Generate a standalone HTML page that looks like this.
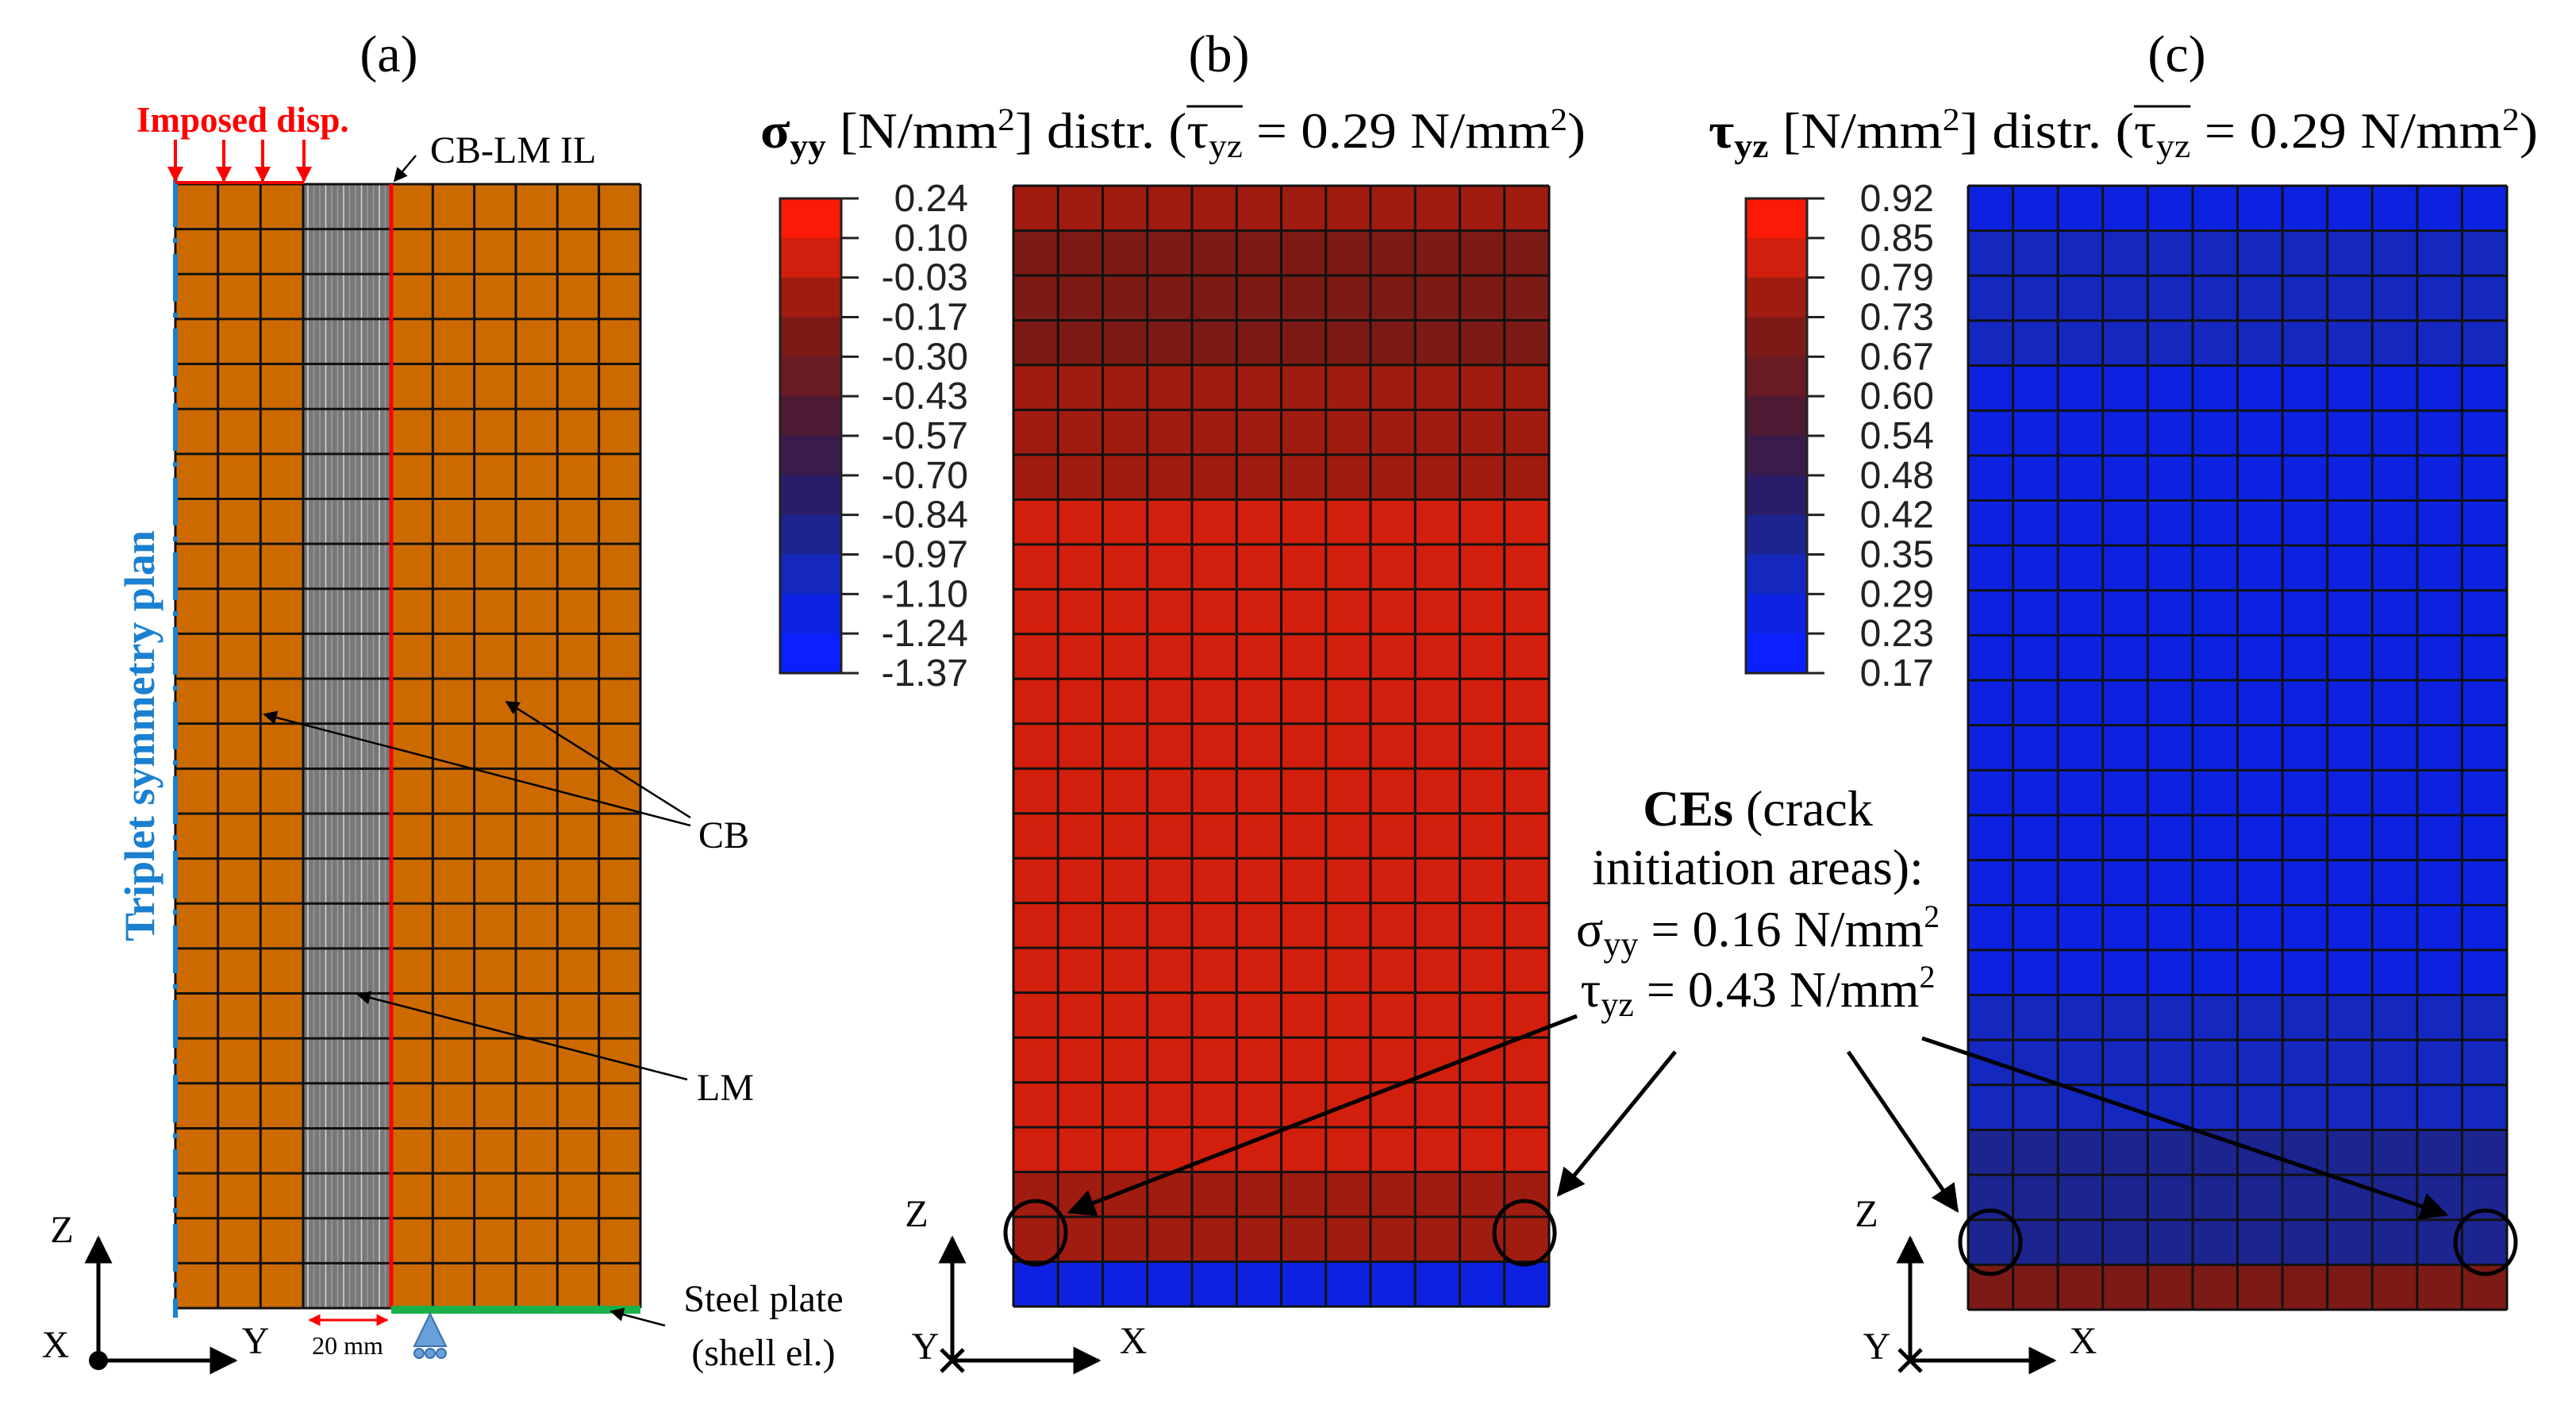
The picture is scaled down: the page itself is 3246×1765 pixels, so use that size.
<!DOCTYPE html>
<html><head><meta charset="utf-8"><style>
html,body{margin:0;padding:0;background:#fff;}
svg{display:block;}
.serif{font-family:"Liberation Serif",serif;}
.sans{font-family:"Liberation Sans",sans-serif;}
</style></head><body>
<svg id="fig" width="3246" height="1765" viewBox="0 0 3246 1765" xmlns="http://www.w3.org/2000/svg">
<defs>
<marker id="ah" viewBox="0 0 10 10" refX="9" refY="5" markerWidth="7" markerHeight="7" orient="auto"><path d="M0,0 L10,5 L0,10 z" fill="#000"/></marker>
<marker id="ahr" viewBox="0 0 10 10" refX="9" refY="5" markerWidth="5" markerHeight="6" orient="auto"><path d="M0,0 L10,5 L0,10 z" fill="#f00"/></marker>
<marker id="ahrs" viewBox="0 0 10 10" refX="1" refY="5" markerWidth="5" markerHeight="6" orient="auto"><path d="M10,0 L0,5 L10,10 z" fill="#f00"/></marker>
</defs>

<text class="serif" x="490" y="90" font-size="66" text-anchor="middle">(a)</text>
<text class="serif" x="1536" y="90" font-size="66" text-anchor="middle">(b)</text>
<text class="serif" x="2743" y="90" font-size="66" text-anchor="middle">(c)</text>

<!-- Panel a -->
<g id="meshA"></g>
<line x1="493" y1="232" x2="493" y2="1648" stroke="#f00" stroke-width="5"/>
<line x1="221" y1="226" x2="221" y2="1660" stroke="#1b80d0" stroke-width="6" stroke-dasharray="60,14,6,14"/>
<text class="serif" x="176" y="927" font-size="54" font-weight="bold" fill="#1b80d0" text-anchor="middle" transform="rotate(-90 176 927)" dy="18">Triplet symmetry plan</text>
<text class="serif" x="172" y="166" font-size="45" font-weight="bold" fill="#f00">Imposed disp.</text>
<g stroke="#f00" stroke-width="4">
<line x1="221" y1="230" x2="383" y2="230"/>
<line x1="221" y1="176" x2="221" y2="228" marker-end="url(#ahr)"/>
<line x1="282" y1="176" x2="282" y2="228" marker-end="url(#ahr)"/>
<line x1="331" y1="176" x2="331" y2="228" marker-end="url(#ahr)"/>
<line x1="383" y1="176" x2="383" y2="228" marker-end="url(#ahr)"/>
</g>
<text class="serif" x="542" y="205" font-size="48">CB-LM IL</text>
<line x1="524" y1="196" x2="497" y2="228" stroke="#000" stroke-width="2.5" marker-end="url(#ah)"/>
<text class="serif" x="880" y="1068" font-size="48">CB</text>
<line x1="870" y1="1040" x2="333" y2="900" stroke="#000" stroke-width="2.5" marker-end="url(#ah)"/>
<line x1="870" y1="1030" x2="638" y2="884" stroke="#000" stroke-width="2.5" marker-end="url(#ah)"/>
<text class="serif" x="878" y="1386" font-size="48">LM</text>
<line x1="866" y1="1360" x2="451" y2="1253" stroke="#000" stroke-width="2.5" marker-end="url(#ah)"/>
<line x1="493" y1="1650" x2="807" y2="1650" stroke="#1ab04a" stroke-width="10"/>
<text class="serif" x="962" y="1652" font-size="48" text-anchor="middle">Steel plate</text>
<text class="serif" x="962" y="1720" font-size="48" text-anchor="middle">(shell el.)</text>
<line x1="838" y1="1670" x2="770" y2="1652" stroke="#000" stroke-width="2.5" marker-end="url(#ah)"/>
<line x1="390" y1="1663" x2="488" y2="1663" stroke="#f00" stroke-width="3" marker-start="url(#ahrs)" marker-end="url(#ahr)"/>
<text class="serif" x="438" y="1706" font-size="32" text-anchor="middle">20 mm</text>
<g fill="#6aa0d8" stroke="#3a70b0" stroke-width="2">
<path d="M542,1655 L522,1696 L562,1696 Z"/>
<circle cx="528" cy="1705" r="6"/><circle cx="542" cy="1705" r="6"/><circle cx="556" cy="1705" r="6"/>
</g>
<g stroke="#000" stroke-width="5">
<line x1="124" y1="1712" x2="124" y2="1560" marker-end="url(#ah)"/>
<line x1="124" y1="1714" x2="296" y2="1714" marker-end="url(#ah)"/>
<circle cx="124" cy="1714" r="12" fill="#000" stroke="none"/>
</g>
<text class="serif" x="78" y="1565" font-size="48" text-anchor="middle">Z</text>
<text class="serif" x="70" y="1710" font-size="48" text-anchor="middle">X</text>
<text class="serif" x="322" y="1705" font-size="48" text-anchor="middle">Y</text>

<!-- Panel b -->
<text id="titleB" class="serif" x="958" y="186" font-size="64" textLength="1040" lengthAdjust="spacingAndGlyphs"><tspan font-weight="bold">σ<tspan font-size="42" dy="12">yy</tspan></tspan><tspan dy="-12"> [N/mm</tspan><tspan font-size="40" dy="-22">2</tspan><tspan dy="22">] distr. (τ</tspan><tspan font-size="42" dy="12">yz</tspan><tspan dy="-12"> = 0.29 N/mm</tspan><tspan font-size="40" dy="-22">2</tspan><tspan dy="22">)</tspan></text>
<line id="obB" x1="1474" y1="136" x2="1542" y2="136" stroke="#000" stroke-width="3"/>
<g id="cbarB"></g>
<g id="meshB"></g>
<ellipse cx="1305" cy="1553" rx="38" ry="40" fill="none" stroke="#000" stroke-width="5"/>
<ellipse cx="1921" cy="1553" rx="38" ry="40" fill="none" stroke="#000" stroke-width="5"/>
<g stroke="#000" stroke-width="5">
<line x1="1200" y1="1714" x2="1200" y2="1560" marker-end="url(#ah)"/>
<line x1="1200" y1="1714" x2="1384" y2="1714" marker-end="url(#ah)"/>
<line x1="1186" y1="1700" x2="1214" y2="1728"/><line x1="1214" y1="1700" x2="1186" y2="1728"/>
</g>
<text class="serif" x="1155" y="1545" font-size="48" text-anchor="middle">Z</text>
<text class="serif" x="1166" y="1712" font-size="48" text-anchor="middle">Y</text>
<text class="serif" x="1428" y="1705" font-size="48" text-anchor="middle">X</text>

<!-- Panel c -->
<text id="titleC" class="serif" x="2153" y="186" font-size="64" textLength="1045" lengthAdjust="spacingAndGlyphs"><tspan font-weight="bold">τ<tspan font-size="42" dy="12">yz</tspan></tspan><tspan dy="-12"> [N/mm</tspan><tspan font-size="40" dy="-22">2</tspan><tspan dy="22">] distr. (τ</tspan><tspan font-size="42" dy="12">yz</tspan><tspan dy="-12"> = 0.29 N/mm</tspan><tspan font-size="40" dy="-22">2</tspan><tspan dy="22">)</tspan></text>
<line id="obC" x1="2672" y1="136" x2="2740" y2="136" stroke="#000" stroke-width="3"/>
<g id="cbarC"></g>
<g id="meshC"></g>
<ellipse cx="2508" cy="1565" rx="38" ry="40" fill="none" stroke="#000" stroke-width="5"/>
<ellipse cx="3132" cy="1565" rx="38" ry="40" fill="none" stroke="#000" stroke-width="5"/>
<g stroke="#000" stroke-width="5">
<line x1="2407" y1="1714" x2="2407" y2="1560" marker-end="url(#ah)"/>
<line x1="2407" y1="1714" x2="2588" y2="1714" marker-end="url(#ah)"/>
<line x1="2393" y1="1700" x2="2421" y2="1728"/><line x1="2421" y1="1700" x2="2393" y2="1728"/>
</g>
<text class="serif" x="2352" y="1545" font-size="48" text-anchor="middle">Z</text>
<text class="serif" x="2365" y="1712" font-size="48" text-anchor="middle">Y</text>
<text class="serif" x="2625" y="1705" font-size="48" text-anchor="middle">X</text>

<!-- CEs annotation -->
<g class="serif" font-size="64" text-anchor="middle">
<text x="2215" y="1040"><tspan font-weight="bold">CEs</tspan> (crack</text>
<text x="2215" y="1114">initiation areas):</text>
<text x="2215" y="1192">σ<tspan font-size="44" dy="12">yy</tspan><tspan dy="-12"> = 0.16 N/mm</tspan><tspan font-size="40" dy="-24">2</tspan></text>
<text x="2215" y="1268">τ<tspan font-size="44" dy="12">yz</tspan><tspan dy="-12"> = 0.43 N/mm</tspan><tspan font-size="40" dy="-24">2</tspan></text>
</g>
<g stroke="#000" stroke-width="5">
<line x1="2111" y1="1325" x2="1964" y2="1505" marker-end="url(#ah)"/>
<line x1="1987" y1="1280" x2="1348" y2="1527" marker-end="url(#ah)"/>
<line x1="2329" y1="1325" x2="2466" y2="1525" marker-end="url(#ah)"/>
<line x1="2422" y1="1308" x2="3082" y2="1530" marker-end="url(#ah)"/>
</g>
</svg>
<script>
// colormap bands, index 0 = lowest value (blue) .. 11 = highest (red)
const bandColors = ["#0a20ff","#0c22e0","#1428c0","#1c2490","#2a1c68","#3a1c4c","#4e1a34","#6a1a22","#7c1a16","#a01c10","#d21e0c","#fa1a06"];
const sigmaTicks = ["0.24","0.10","-0.03","-0.17","-0.30","-0.43","-0.57","-0.70","-0.84","-0.97","-1.10","-1.24","-1.37"];
const tauTicks = ["0.92","0.85","0.79","0.73","0.67","0.60","0.54","0.48","0.42","0.35","0.29","0.23","0.17"];
// panel b: sigma_yy per mesh row (top to bottom, 25 rows)
const sigmaRows = [-0.05,-0.25,-0.25,-0.22,-0.1,-0.1,-0.1,0.0,0.0,0.0,0.0,0.0,0.0,0.0,0.0,0.05,0.05,0.05,0.05,0.05,0.05,-0.02,-0.1,-0.1,-1.2];
// panel c: tau_yz per mesh row (top to bottom, 25 rows)
const tauRows = [0.26,0.3,0.3,0.3,0.26,0.26,0.26,0.26,0.26,0.26,0.26,0.26,0.26,0.26,0.26,0.26,0.26,0.26,0.3,0.3,0.3,0.38,0.4,0.4,0.7];
const meshCols = 12;
const meshAColsLeft = 3, meshAColsRight = 6, meshARows = 25;

const NS = "http://www.w3.org/2000/svg";
function mk(tag, attrs, parent){ const e=document.createElementNS(NS,tag); for(const k in attrs) e.setAttribute(k,attrs[k]); parent.appendChild(e); return e; }
function colorFor(v, ticks){ const vals=ticks.map(Number);
  for(let i=0;i<vals.length-1;i++){ if(v<=vals[i] && v>=vals[i+1]) return bandColors[11-i]; }
  return v>vals[0]?bandColors[11]:bandColors[0]; }

function drawMesh(g, x0, x1, y0, y1, rows, ticks){
  const n=rows.length, cw=(x1-x0)/meshCols, rh=(y1-y0)/n;
  const xs=c=>x0+c*cw, ys=r=>y0+r*rh;
  rows.forEach((v,r)=>{ for(let c=0;c<meshCols;c++){
    const cell=mk("rect",{x:xs(c),y:ys(r),width:cw+0.5,height:rh+0.5,fill:colorFor(v,ticks)},g);
    
    
  }});
  for(let c=0;c<=meshCols;c++) mk("line",{x1:xs(c),y1:y0,x2:xs(c),y2:y1,stroke:"#111",'stroke-width':3},g);
  for(let r=0;r<=n;r++) mk("line",{x1:x0,y1:ys(r),x2:x1,y2:ys(r),stroke:"#111",'stroke-width':3},g);
}
function drawBar(g, x0, y0, y1, ticks){
  const n=bandColors.length, bh=(y1-y0)/n, w=77;
  for(let i=0;i<n;i++){
    const b=mk("rect",{x:x0,y:y0+i*bh,width:w,height:bh+0.5,fill:bandColors[n-1-i]},g);
    
    
  }
  mk("rect",{x:x0,y:y0,width:w,height:y1-y0,fill:"none",stroke:"#222",'stroke-width':3},g);
  ticks.forEach((t,i)=>{ const y=y0+i*bh;
    mk("line",{x1:x0+w,y1:y,x2:x0+w+22,y2:y,stroke:"#222",'stroke-width':3},g);
    const tx=mk("text",{x:x0+w+160,y:y+16,'font-size':48,'text-anchor':'end','font-family':'Liberation Sans, sans-serif',fill:"#222"},g);
    tx.textContent=t;
    
    
  });
}
(function(){
  const g=document.getElementById("meshA");
  const y0=232,y1=1648, rh=(y1-y0)/meshARows;
  mk("rect",{x:221,y:y0,width:161,height:y1-y0,fill:"#cc6a00"},g);
  mk("rect",{x:493,y:y0,width:314,height:y1-y0,fill:"#cc6a00"},g);
  mk("rect",{x:382,y:y0,width:111,height:y1-y0,fill:"#787878"},g);
  for(let i=0;i<14;i++) mk("line",{x1:388+i*7.5,y1:y0,x2:388+i*7.5,y2:y1,stroke:(i%3==0?"#d8d8d8":"#9a9a9a"),'stroke-width':1.5},g);
  for(let c=0;c<=meshAColsLeft;c++){const x=221+c*161/meshAColsLeft; mk("line",{x1:x,y1:y0,x2:x,y2:y1,stroke:"#111",'stroke-width':3},g);}
  for(let c=0;c<=meshAColsRight;c++){const x=493+c*314/meshAColsRight; mk("line",{x1:x,y1:y0,x2:x,y2:y1,stroke:"#111",'stroke-width':3},g);}
  for(let r=0;r<=meshARows;r++){const y=y0+r*rh; mk("line",{x1:221,y1:y,x2:807,y2:y,stroke:"#111",'stroke-width':3},g);}
})();
drawMesh(document.getElementById("meshB"),1277,1952,234,1646,sigmaRows,sigmaTicks);
drawMesh(document.getElementById("meshC"),2480,3159,234,1650,tauRows,tauTicks);
drawBar(document.getElementById("cbarB"),983,250,848,sigmaTicks);
drawBar(document.getElementById("cbarC"),2200,250,848,tauTicks);
// place overbars over the second τyz in each title
function placeBar(tid, lid){
  try{
    const t=document.getElementById(tid), s=t.textContent, i=s.lastIndexOf("τ");
    const a=t.getStartPositionOfChar(i).x, b=t.getEndPositionOfChar(i+2).x;
    const l=document.getElementById(lid);
    l.setAttribute("x1",a); l.setAttribute("x2",b); l.setAttribute("y1",134); l.setAttribute("y2",134);
  }catch(e){}
}
placeBar("titleB","obB"); placeBar("titleC","obC");
</script>
</body></html>
